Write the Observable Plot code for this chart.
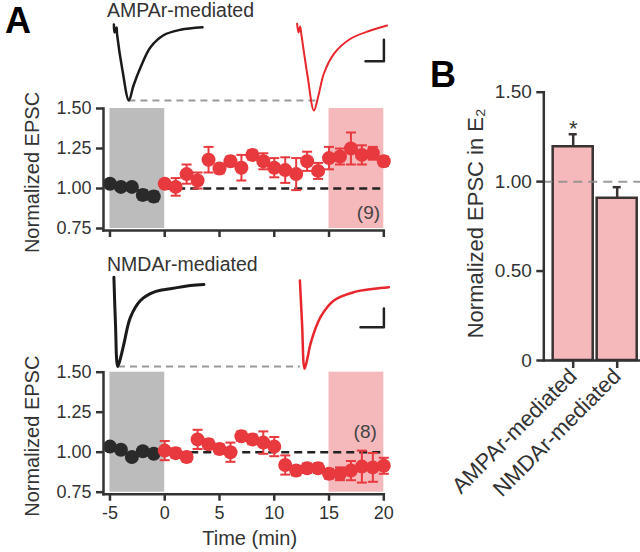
<!DOCTYPE html>
<html><head><meta charset="utf-8">
<script src="https://cdn.jsdelivr.net/npm/d3@7"></script>
<script src="https://cdn.jsdelivr.net/npm/@observablehq/plot@0.6"></script>
<style>
body{margin:0;background:#fff;font-family:"Liberation Sans",Arial,Helvetica,sans-serif;}
#root{position:relative;width:640px;height:552px;overflow:hidden;background:#fff;}
.abs{position:absolute;}
.abs svg{display:block;overflow:visible;}
.lbl{position:absolute;white-space:nowrap;color:#333;line-height:1.2;}
</style></head><body><div id="root"></div>
<script>
// ---------- data ----------
const baseTimes = [-5, -4, -3, -2, -1];
const e2Times = [0,1,2,3,4,5,6,7,8,9,10,11,12,13,14,15,16,17,18,19,20];
const xTicks = [-5, 0, 5, 10, 15, 20];
const yTicksA = [0.75, 1.00, 1.25, 1.50];
const baselineWindow = [-5, 0];
const e2Window = [15, 20];

const ampaBaseMean = [1.03, 1.01, 1.01, 0.96, 0.95];
const ampaBaseSem  = [0.02, 0.02, 0.02, 0.03, 0.03];
const ampaE2Mean = [1.03,1.01,1.09,1.05,1.18,1.125,1.17,1.13,1.21,1.17,1.13,1.115,1.09,1.17,1.11,1.19,1.20,1.25,1.21,1.22,1.17];
const ampaE2Sem  = [0.02,0.055,0.06,0.05,0.08,0.03,0.03,0.08,0.03,0.05,0.06,0.08,0.10,0.06,0.05,0.07,0.05,0.10,0.06,0.04,0.03];

const nmdaBaseMean = [1.035, 1.015, 0.97, 1.006, 0.99];
const nmdaBaseSem  = [0.02, 0.02, 0.02, 0.02, 0.02];
const nmdaE2Mean = [1.01,0.994,0.97,1.08,1.05,1.02,1.00,1.10,1.08,1.06,1.035,0.92,0.885,0.90,0.90,0.865,0.865,0.885,0.91,0.905,0.915];
const nmdaE2Sem  = [0.06,0.03,0.03,0.06,0.03,0.03,0.06,0.03,0.03,0.07,0.06,0.06,0.03,0.03,0.03,0.03,0.04,0.06,0.10,0.09,0.05];

const nCells = ["(9)", "(8)"];
const nLabelTime = [18.6, 18.3];
const nLabelValue = [0.845, 1.125];

const receptorTypes = ["AMPAr-mediated", "NMDAr-mediated"];
const e2BarMean = [1.195, 0.907];
const e2BarSem  = [0.07, 0.062];
const significance = ["*", ""];
const yTicksB = [0, 0.5, 1.0, 1.5];

// example traces: time (ms) and normalized current
const ampaBaseTraceT = [6.7,7,8,8.3,11,14.2,16.5,20,25,31.5,40,51];
const ampaBaseTraceI = [0.013,-0.093,-0.027,-0.12,-0.6,-1.0,-0.8,-0.56,-0.29,-0.13,-0.057,-0.023];
const ampaE2TraceT = [98.3,99,99.8,100.5,103.5,106.7,109,111.7,116.7,125,135,143.3];
const ampaE2TraceI = [0.023,-0.093,-0.013,-0.133,-0.667,-1.133,-0.93,-0.64,-0.377,-0.177,-0.067,0];
const nmdaBaseTraceT = [6.7,7.5,8.6,10,11.7,15,20,26.7,35,45,51.7];
const nmdaBaseTraceI = [0.063,-0.5,-1.0,-0.9,-0.73,-0.413,-0.214,-0.115,-0.075,-0.036,-0.024];
const nmdaE2TraceT = [99.7,100.8,102,103.5,105,110,116.7,126.7,136.7,144.2];
const nmdaE2TraceI = [0.024,-0.5,-1.027,-0.9,-0.73,-0.413,-0.214,-0.115,-0.075,-0.056];
const ampaPeakLineT = [14.2, 110];
const nmdaPeakLineT = [9, 100];
const ampaScaleBarT = [132.5, 141.7], ampaScaleBarI = [-0.476, -0.19];
const nmdaScaleBarT = [130, 141.7],  nmdaScaleBarI = [-0.532, -0.31];

// ---------- style ----------
const RED = "#e8393e", BLACK = "#2a2a2a", AXIS = "#333", GRAYSHADE = "#bdbcbc", PINK = "#f5b8bb";
const FONT = "'Liberation Sans', Arial, Helvetica, sans-serif";
const root = document.getElementById("root");
function place(node, left, top) {
  const d = document.createElement("div");
  d.className = "abs"; d.style.left = left + "px"; d.style.top = top + "px";
  d.appendChild(node); root.appendChild(d);
}
function label(text, left, top, size, weight) {
  const s = document.createElement("div");
  s.className = "lbl"; s.textContent = text;
  s.style.left = left + "px"; s.style.top = top + "px";
  s.style.fontSize = size + "px";
  if (weight) { s.style.fontWeight = weight; s.style.color = "#000"; }
  root.appendChild(s);
}
const capSymbol = { draw(ctx, size) { const r = Math.sqrt(size / Math.PI); ctx.moveTo(-r, 0); ctx.lineTo(r, 0); } };

const xDomainA = [-5.59, 20];
const yDomainA = [0.7375, 1.5];

function errMarks(data, color) {
  return [
    Plot.ruleX(data, {x: "t", y1: d => d.m - d.s, y2: d => d.m + d.s, stroke: color, strokeWidth: 2}),
    Plot.dot(data, {x: "t", y: d => d.m + d.s, symbol: capSymbol, r: 5, stroke: color, strokeWidth: 2, fill: "none"}),
    Plot.dot(data, {x: "t", y: d => d.m - d.s, symbol: capSymbol, r: 5, stroke: color, strokeWidth: 2, fill: "none"})
  ];
}

function timePanel(cfg) {
  const base = baseTimes.map((t, i) => ({t, m: cfg.baseMean[i], s: cfg.baseSem[i]}));
  const post = e2Times.map((t, i) => ({t, m: cfg.e2Mean[i], s: cfg.e2Sem[i]}));
  const marks = [
    Plot.rect([baselineWindow], {x1: d => d[0], x2: d => d[1], y1: () => 0.75, y2: () => 1.5, fill: GRAYSHADE}),
    Plot.rect([e2Window], {x1: d => d[0], x2: d => d[1], y1: () => 0.75, y2: () => 1.5, fill: PINK}),
    Plot.ruleY([1], {x1: () => 0, x2: () => 20, stroke: "#222", strokeWidth: 2.5, strokeDasharray: "8,5"}),
    ...errMarks(base, BLACK),
    ...errMarks(post, RED),
    Plot.dot(base, {x: "t", y: "m", r: 7, fill: BLACK}),
    Plot.dot(post, {x: "t", y: "m", r: 7, fill: RED}),
    Plot.frame({anchor: "left", stroke: AXIS, strokeWidth: 2.5}),
    Plot.frame({anchor: "bottom", stroke: AXIS, strokeWidth: 2.5}),
    Plot.axisY({ticks: yTicksA, tickFormat: d => d.toFixed(2), tickSize: 7, tickPadding: 5, fontSize: 18, strokeWidth: 2.5, label: null}),
    Plot.axisX({ticks: xTicks, tickFormat: cfg.showX ? (d => String(d)) : (() => ""), tickSize: 7, tickPadding: 5, fontSize: 18, strokeWidth: 2.5, label: null}),
    Plot.text([cfg.nLabel], {x: () => cfg.nTime, y: () => cfg.nValue, fontSize: 19, fill: "#444", textAnchor: "middle"}),
    Plot.text(["Normalized EPSC"], {frameAnchor: "left", dx: -71, dy: 3, rotate: -90, fontSize: 20, fill: "#333", textAnchor: "middle", lineAnchor: "middle"})
  ];
  if (cfg.showX) marks.push(Plot.text(["Time (min)"], {frameAnchor: "bottom", dx: 6, dy: 44, fontSize: 20, fill: "#333", lineAnchor: "middle"}));
  return Plot.plot({
    width: 400, height: cfg.height,
    marginLeft: 103, marginRight: 16.7, marginTop: cfg.marginTop, marginBottom: cfg.marginBottom,
    x: {domain: xDomainA}, y: {domain: yDomainA},
    style: {fontFamily: FONT, color: "#333", background: "transparent", overflow: "visible"},
    marks
  });
}

function tracePanel(cfg) {
  const b = cfg.baseT.map((t, i) => ({t, v: cfg.baseI[i]}));
  const e = cfg.e2T.map((t, i) => ({t, v: cfg.e2I[i]}));
  return Plot.plot({
    width: 300, height: cfg.height, marginLeft: 0, marginRight: 0, marginTop: cfg.marginTop, marginBottom: cfg.marginBottom,
    x: {domain: [0, 150], axis: null}, y: {domain: cfg.yDomain, axis: null},
    style: {background: "transparent", overflow: "visible"},
    marks: [
      Plot.ruleY([-1], {x1: () => cfg.peakT[0], x2: () => cfg.peakT[1], stroke: "#999", strokeWidth: 2, strokeDasharray: "7,5"}),
      Plot.line(b, {x: "t", y: "v", stroke: "#1a1a1a", strokeWidth: cfg.sw, curve: "catmull-rom"}),
      Plot.line(e, {x: "t", y: "v", stroke: "#e8262c", strokeWidth: cfg.sw - 0.5, curve: "catmull-rom"}),
      Plot.line([{t: cfg.sbT[0], v: cfg.sbI[0]}, {t: cfg.sbT[1], v: cfg.sbI[0]}, {t: cfg.sbT[1], v: cfg.sbI[1]}],
        {x: "t", y: "v", stroke: "#222", strokeWidth: 2.5})
    ]
  });
}

// ---------- panel A traces ----------
place(tracePanel({baseT: ampaBaseTraceT, baseI: ampaBaseTraceI, e2T: ampaE2TraceT, e2I: ampaE2TraceI,
  peakT: ampaPeakLineT, sbT: ampaScaleBarT, sbI: ampaScaleBarI, yDomain: [-1.2, 0.1],
  height: 120, marginTop: 17.5, marginBottom: 5, sw: 2.5}), 100, 0);
place(tracePanel({baseT: nmdaBaseTraceT, baseI: nmdaBaseTraceI, e2T: nmdaE2TraceT, e2I: nmdaE2TraceI,
  peakT: nmdaPeakLineT, sbT: nmdaScaleBarT, sbI: nmdaScaleBarI, yDomain: [-1.1, 0.1],
  height: 115, marginTop: 13.6, marginBottom: 0.6, sw: 3}), 100, 260);

// ---------- panel A time courses ----------
place(timePanel({baseMean: ampaBaseMean, baseSem: ampaBaseSem, e2Mean: ampaE2Mean, e2Sem: ampaE2Sem,
  nLabel: nCells[0], nTime: nLabelTime[0], nValue: nLabelValue[0], showX: false,
  height: 160, marginTop: 18, marginBottom: 20}), 0, 90);
place(timePanel({baseMean: nmdaBaseMean, baseSem: nmdaBaseSem, e2Mean: nmdaE2Mean, e2Sem: nmdaE2Sem,
  nLabel: nCells[1], nTime: nLabelTime[1], nValue: nLabelValue[1], showX: true,
  height: 197, marginTop: 16.7, marginBottom: 58.3}), 0, 355);

// ---------- panel B ----------
const barData = receptorTypes.map((type, i) => ({type, m: e2BarMean[i], s: e2BarSem[i], sig: significance[i]}));
place(Plot.plot({
  width: 240, height: 512, marginLeft: 143.3, marginRight: 0, marginTop: 51.7, marginBottom: 192,
  x: {type: "band", domain: receptorTypes, paddingInner: 0.09, paddingOuter: 0.144, align: 0.74, round: false},
  y: {domain: [0, 1.5]},
  style: {fontFamily: FONT, color: "#333", background: "transparent", overflow: "visible"},
  marks: [
    Plot.barY(barData, {x: "type", y: "m", fill: PINK, stroke: "#3a3333", strokeWidth: 2.5}),
    Plot.ruleX(barData, {x: "type", y1: "m", y2: d => d.m + d.s, stroke: "#3a3333", strokeWidth: 2.5}),
    Plot.tickY(barData, {x: "type", y: d => d.m + d.s, insetLeft: 16, insetRight: 16, stroke: "#3a3333", strokeWidth: 2.5}),
    Plot.ruleY([1], {stroke: "#8c8c8c", strokeOpacity: 0.85, strokeWidth: 2, strokeDasharray: "9,6"}),
    Plot.text(barData, {x: "type", y: d => d.m + d.s, text: "sig", dy: -5, fontSize: 22, fill: "#333", lineAnchor: "middle"}),
    Plot.frame({anchor: "left", stroke: AXIS, strokeWidth: 2.5}),
    Plot.frame({anchor: "bottom", stroke: AXIS, strokeWidth: 2.5}),
    Plot.axisY({ticks: yTicksB, tickFormat: d => d === 0 ? "0" : d.toFixed(2), tickSize: 7, tickPadding: 5, fontSize: 19, strokeWidth: 2.5, label: null}),
    Plot.axisX({tickRotate: -45, tickSize: 8, tickPadding: 4, fontSize: 22, strokeWidth: 2.5, label: null}),
    Plot.text(["Normalized EPSC in E\u2082"], {frameAnchor: "left", dx: -68, dy: -3, rotate: -90, fontSize: 22, fill: "#333", textAnchor: "middle", lineAnchor: "middle"})
  ]
}), 400, 40);

// ---------- text labels ----------
label("AMPAr-mediated", 107, -1, 19.5);
label("NMDAr-mediated", 107, 253, 19.5);
label("A", 5, -1, 36, "bold");
label("B", 430, 53, 36, "bold");
</script></body></html>
